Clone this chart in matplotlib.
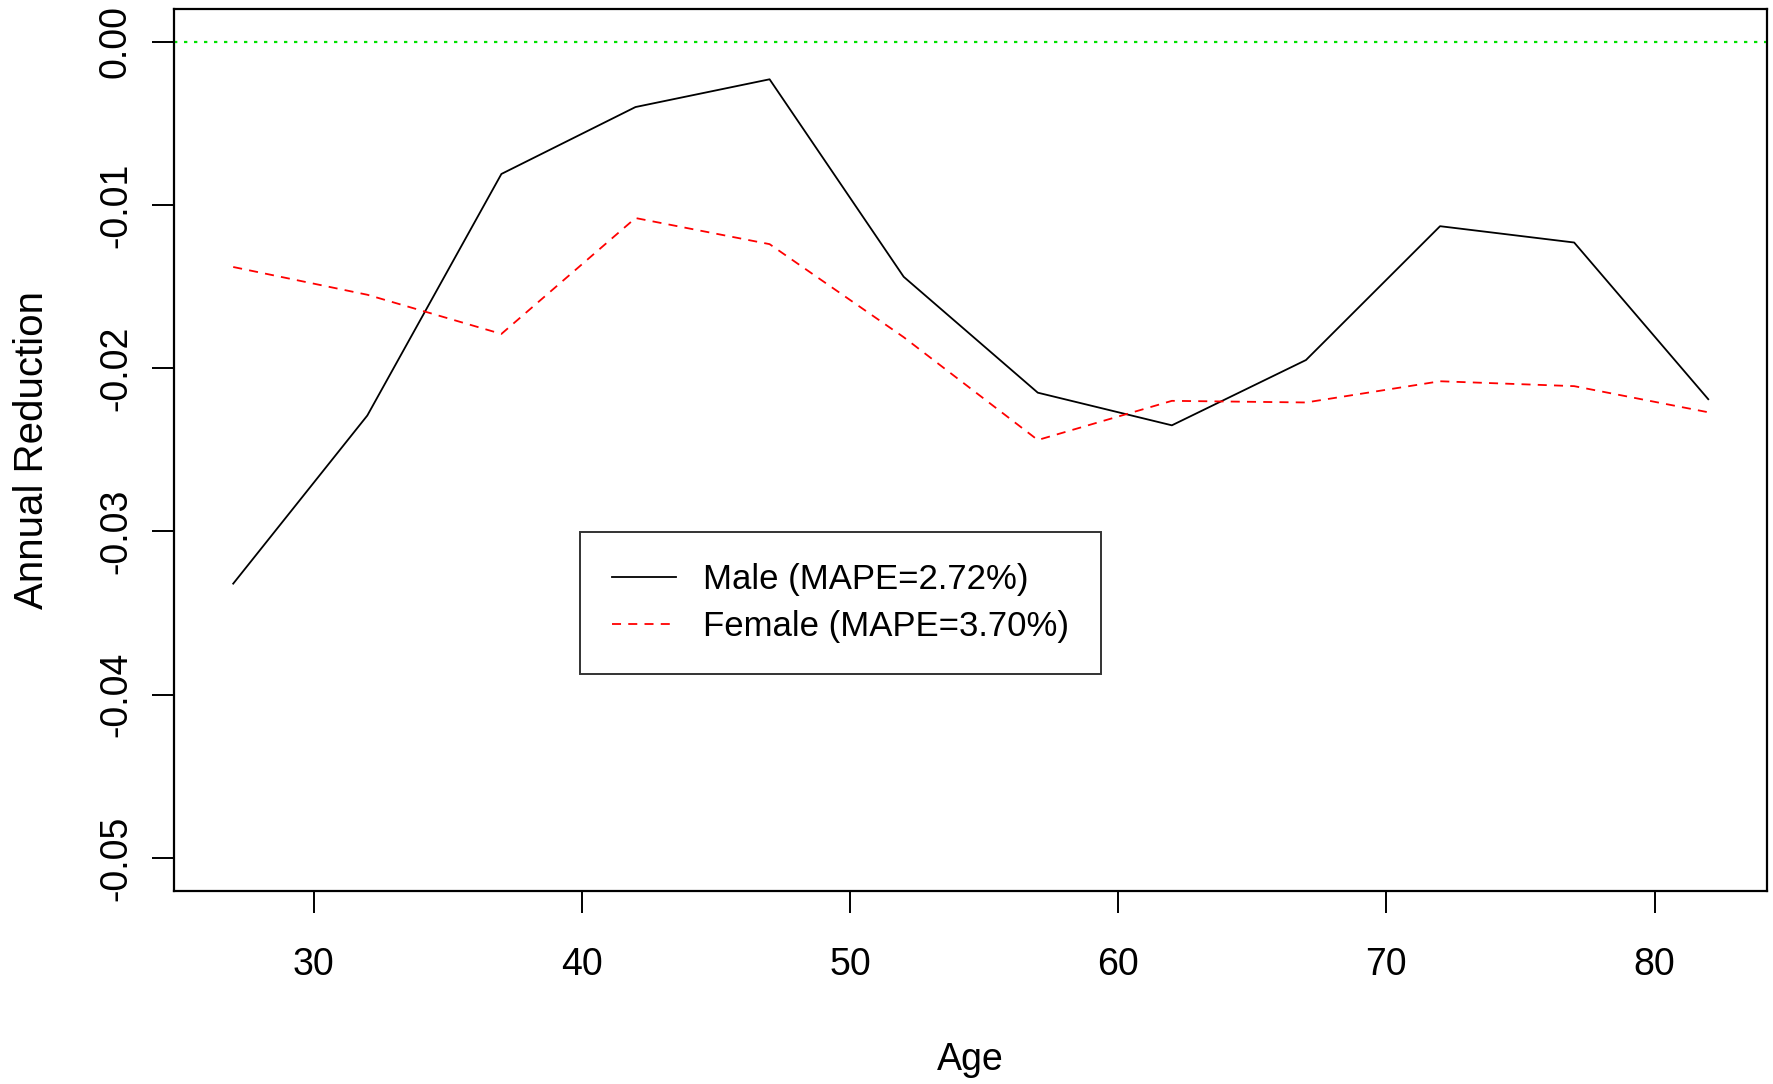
import numpy as np
from matplotlib import pyplot as plt

# ages at which the reductions were estimated
ages = [27, 32, 37, 42, 47, 52, 57, 62, 67, 72, 77, 82]
male = [-0.0332, -0.0229, -0.0081, -0.0040, -0.0023, -0.0144,
        -0.0215, -0.0235, -0.0195, -0.0113, -0.0123, -0.0219]
female = [-0.0138, -0.0155, -0.0179, -0.0108, -0.0124, -0.0181,
          -0.0244, -0.0220, -0.0221, -0.0208, -0.0211, -0.0227]
male_label = 'Male (MAPE=2.72%)'
female_label = 'Female (MAPE=3.70%)'
x_ticks = [30, 40, 50, 60, 70, 80]
y_ticks = [0.00, -0.01, -0.02, -0.03, -0.04, -0.05]

plt.rcParams['font.family'] = ['Liberation Sans Narrow', 'Liberation Sans', 'DejaVu Sans']

fig = plt.figure(figsize=(17.74, 10.84), dpi=100)
ax = fig.add_axes([0.0982, 0.1785, 0.898, 0.8131])

ax.plot(ages, male, color='black', lw=1.3, label=male_label)
ax.plot(ages, female, color='red', lw=1.3, ls=(0, (5, 4)), label=female_label)
ax.axhline(0, color='#00e000', lw=1.6, ls=(0, (1.5, 3)))

ax.set_xlim(24.8, 84.2)
ax.set_ylim(-0.052, 0.002)
ax.set_xticks(x_ticks)
ax.set_xticklabels([str(t) for t in x_ticks])
ax.set_yticks(y_ticks)
ax.set_yticklabels(['%.2f' % t for t in y_ticks], rotation=90, va='center')

for s in ax.spines.values():
    s.set_linewidth(1.6)
ax.tick_params(axis='both', length=16, width=1.4, labelsize=27)
ax.tick_params(axis='x', pad=25)
ax.tick_params(axis='y', pad=13)

ax.set_xlabel('Age', fontsize=27, labelpad=42)
ax.set_ylabel('Annual Reduction', fontsize=29, labelpad=34)

leg = ax.legend(loc='upper left', bbox_to_anchor=(0.255, 0.407), fontsize=25,
                frameon=True, fancybox=False, edgecolor='black',
                borderaxespad=0, handlelength=1.86, borderpad=0.9,
                labelspacing=0.4, handletextpad=0.78)
leg.get_frame().set_linewidth(1.4)

plt.savefig('out.png', dpi=100)
